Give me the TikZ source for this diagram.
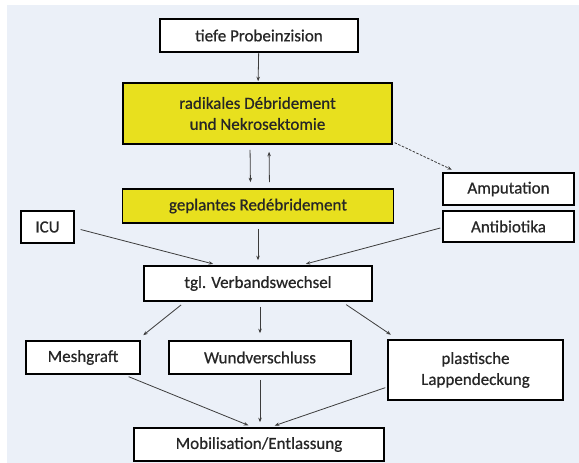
\documentclass[tikz,border=0pt]{standalone}
\usepackage{fontspec}
\setmainfont{Carlito}[FakeBold=0.6]
\usetikzlibrary{arrows.meta,calc}
\definecolor{panel}{HTML}{EBF0F8}
\definecolor{boxyellow}{HTML}{E8E01E}
\definecolor{linegray}{HTML}{3C3C3C}
\tikzset{
  box/.style={draw=black, line width=1.6pt, fill=white, align=center, inner sep=0pt,
    font=\fontsize{17}{21}\selectfont, text=black!85},
  ybox/.style={box, fill=boxyellow},
  conn/.style={draw=linegray, line width=0.8pt, -{Stealth[length=4.5pt,width=3.5pt]}},
  dconn/.style={conn, dash pattern=on 2.5pt off 1.5pt}
}
\begin{document}
\begin{tikzpicture}[x=1pt,y=-1pt]
\useasboundingbox (0,0) rectangle (579,463);
\fill[white] (0,0) rectangle (579,463);
\fill[panel] (7,5) rectangle (579,463);
% nodes
\node[box, minimum width=198pt, minimum height=33pt] (tiefe) at (259,35.5) {tiefe Probeinzision};
\node[ybox, minimum width=269pt, minimum height=61pt] (rad) at (257.5,113.5) {radikales Débridement\\und Nekrosektomie};
\node[ybox, minimum width=271pt, minimum height=34pt] (gep) at (258,206) {geplantes Redébridement};
\node[box, minimum width=131pt, minimum height=32pt] (amp) at (508.5,189) {Amputation};
\node[box, minimum width=131pt, minimum height=31pt] (anti) at (508.5,226.5) {Antibiotika};
\node[box, minimum width=53pt, minimum height=32pt] (icu) at (47.5,227) {ICU};
\node[box, minimum width=228pt, minimum height=35pt] (tgl) at (258,283.5) {tgl. Verbandswechsel};
\node[box, minimum width=114pt, minimum height=33pt] (mesh) at (83,357.5) {Meshgraft};
\node[box, minimum width=182pt, minimum height=33pt] (wund) at (260,357.5) {Wundverschluss};
\node[box, minimum width=175pt, minimum height=60pt] (plast) at (475.5,370) {plastische\\Lappendeckung};
\node[box, minimum width=250pt, minimum height=33pt] (mob) at (259,444.5) {Mobilisation/Entlassung};
% connectors
\draw[conn, shorten >=1pt] (tiefe) -- (rad);
\draw[conn, shorten <=5pt, shorten >=6pt] ($(rad.south)+(-7.5,0)$) -- ($(gep.north)+(-7.5,0)$);
\draw[conn, shorten <=6pt, shorten >=7pt] ($(gep.north)+(11.5,0)$) -- ($(rad.south)+(11.5,0)$);
\draw[dconn, shorten <=2pt, shorten >=6pt] ($(rad.south east)+(0,-3)$) -- ($(amp.north west)+(15,0)$);
\draw[conn, shorten <=6pt, shorten >=5pt] ($(icu.east)+(0,1)$) -- ($(tgl.north)+(-40,0)$);
\draw[conn, shorten <=5pt, shorten >=5pt] (gep) -- (tgl);
\draw[conn, shorten <=2pt, shorten >=5pt] ($(anti.west)+(0,1)$) -- ($(tgl.north)+(43,0)$);
\draw[conn, shorten <=5pt, shorten >=8pt] ($(tgl.south)+(-73,0)$) -- ($(mesh.north)+(54,0)$);
\draw[conn, shorten <=5pt, shorten >=7pt] ($(tgl.south)+(2,0)$) -- (wund.north);
\draw[conn, shorten <=5pt, shorten >=8pt] ($(tgl.south)+(84,0)$) -- ($(plast.north)+(-78,0)$);
\draw[conn, shorten <=5pt, shorten >=5pt] ($(mesh.south)+(41,0)$) -- ($(mob.north)+(-6,0)$);
\draw[conn, shorten <=5pt, shorten >=5pt] (wund.south) -- ($(mob.north)+(1,0)$);
\draw[conn, shorten <=2pt, shorten >=5pt] ($(plast.west)+(0,17)$) -- ($(mob.north)+(11,0)$);
\end{tikzpicture}
\end{document}
